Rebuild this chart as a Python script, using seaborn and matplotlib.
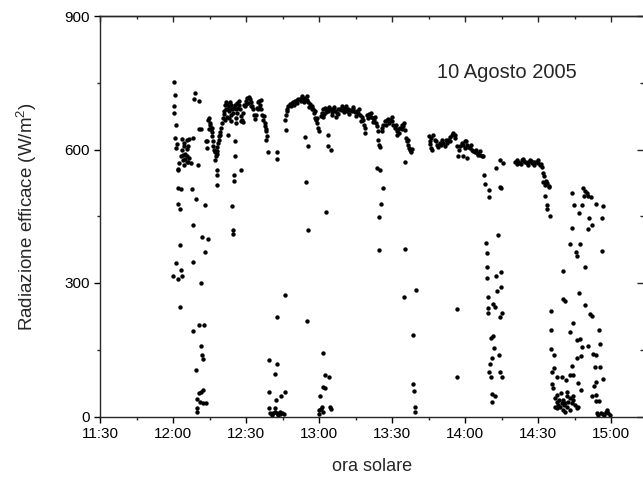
import matplotlib
matplotlib.use("Agg")
import matplotlib.pyplot as plt
from matplotlib.ticker import MultipleLocator, FuncFormatter, NullFormatter
import seaborn as sns
import pandas as pd

# ---- data: minutes after 12:00 (ora solare) and radiation (W/m2) ----
band_min = [
    3.7, 4.5, 5.6, 6.7, 8.4, 3.7, 4.5, 5.6, 6.3, 3.4, 4.2, 5.1, 5.9, 6.7, 4.0, 5.1, 6.2, 7.3, 2.6, 4.5, 5.6, 2.1, 10.4,
    9.2, 8.8, 10.5, 10.8, 11.6, 13.6, 14.1, 14.8, 15.2, 14.9, 15.9,
    13.8, 14.5, 15.5, 15.9, 16.3, 16.6, 17.0, 17.4, 17.9, 18.2, 18.6, 19.0, 19.5, 19.9, 20.1, 20.5, 21.0, 21.4,
    21.8, 22.2, 22.6, 23.0, 23.4, 23.8, 24.2, 24.7, 25.1, 25.5, 25.9, 26.3, 26.7, 27.1, 27.5, 28.1, 28.4, 28.9,
    29.5, 30.0, 30.5, 31.1, 31.6, 32.1, 32.5, 32.9, 33.3, 33.7, 34.1, 34.5, 34.9, 35.3, 35.8, 36.2, 36.6, 37.1,
    17.3, 17.9, 18.2, 18.2, 17.6, 18.0, 22.7, 25.5, 25.6, 22.9, 23.7, 25.9, 28.1, 28.9, 21.4, 22.1, 24.0, 26.0,
    27.8, 29.0, 30.2, 31.0, 32.0, 34.8, 36.0, 35.5, 20.8, 21.6, 22.4, 23.2, 26.5, 27.3, 19.2, 18.8, 16.0, 15.0,
    37.8, 38.2, 38.5, 38.2, 39.2, 42.6, 42.9, 38.1, 37.5, 38.0,
    46.3, 46.3, 46.7, 47.4, 48.1, 48.8, 49.5, 50.1, 50.8, 51.5, 52.2, 52.9, 53.6, 54.2, 54.9, 55.6, 56.3, 57.0,
    57.7, 58.0, 58.4, 58.8, 59.3, 59.0, 59.7, 60.1, 46.0, 47.0, 48.5, 49.8, 51.0, 52.5, 53.0, 54.0, 55.0, 56.0,
    57.3, 58.3, 54.4, 55.3, 63.6, 63.8, 64.8,
    61.1, 61.8, 62.5, 63.2, 63.8, 64.5, 65.2, 65.9, 66.6, 67.3, 67.9, 68.6, 69.3, 70.0, 70.7, 71.4, 72.1, 72.7,
    73.4, 74.1, 74.8, 75.5, 76.2, 76.8, 77.5, 78.2, 78.6, 78.9, 79.0, 79.9, 80.7, 81.2, 82.0, 82.7, 83.4, 84.0,
    84.4, 84.4, 84.8, 85.1,
    62.0, 63.0, 64.0, 65.5, 66.2, 67.0, 68.0, 69.0, 70.4, 71.0, 72.5, 73.8, 75.0, 76.5, 77.2, 80.3, 81.5, 82.3,
    83.0, 61.5, 60.8,
    85.8, 86.4, 87.1, 87.8, 88.5, 89.2, 89.9, 90.5, 91.2, 91.9, 92.6, 93.3, 94.0, 94.7, 95.3, 95.8, 96.3, 96.7,
    97.1, 97.4, 98.1, 96.5, 95.4, 86.0, 87.5, 88.8, 90.0, 91.5, 92.0, 93.0, 94.3, 95.0, 97.8,
    105.3, 105.6, 105.9, 106.3, 107.0, 107.6, 108.3, 109.0, 109.7, 110.4, 111.1, 111.8, 112.5, 113.2, 113.8,
    114.5, 115.2, 115.9, 116.6, 117.1, 118.0, 118.6, 119.3, 120.0, 120.7, 121.4, 122.1, 122.7, 123.4, 124.1,
    124.8, 125.5, 126.2, 126.8, 127.5, 119.1, 121.0,
    105.5, 106.0, 108.0, 110.0, 112.0, 114.0, 116.0, 117.6, 119.8, 122.5, 124.5, 126.0, 120.3,
    127.9, 128.3,
    140.6, 141.2, 141.9, 142.6, 143.3, 143.9, 144.6, 145.3, 146.0, 146.7, 147.4, 148.0, 148.7, 149.4, 150.1,
    150.8, 151.5, 151.9, 152.2, 152.9, 153.6, 154.4, 154.7,
    141.5, 143.0, 144.2, 145.8, 147.0, 148.3, 149.8, 151.2, 152.5, 153.2,
]
band_wm2 = [
    624, 615, 622, 624, 625, 600, 607, 601, 607, 585, 588, 591, 586, 581, 576, 579, 573, 570, 570, 566, 571, 556, 566,
    726, 714, 710, 645, 646, 618, 603, 671, 660, 646, 648,
    618, 667, 645, 630, 618, 607, 600, 594, 596, 606, 615, 622, 633, 648, 660, 671, 686, 701,
    706, 703, 691, 697, 706, 701, 690, 682, 693, 701, 691, 682, 693, 701, 690, 676, 667, 682,
    697, 708, 716, 718, 713, 706, 697, 690, 678, 669, 678, 693, 706, 708, 701, 690, 678, 667,
    577, 555, 543, 521, 585, 590, 633, 618, 585, 671, 663, 660, 663, 661, 666, 674, 678, 670,
    553, 700, 702, 705, 698, 690, 712, 694, 680, 690, 690, 686, 705, 708, 640, 630, 640, 655,
    660, 641, 630, 622, 594, 594, 579, 645, 675, 652,
    643, 678, 691, 697, 703, 705, 706, 708, 711, 713, 713, 716, 712, 716, 712, 706, 703, 697,
    690, 682, 671, 666, 671, 660, 648, 641, 667, 686, 698, 700, 704, 708, 720, 706, 720, 695,
    690, 686, 628, 607, 633, 608, 600,
    682, 690, 693, 691, 686, 690, 684, 690, 686, 682, 690, 690, 697, 691, 693, 686, 690, 688,
    686, 690, 684, 686, 682, 678, 674, 667, 656, 637, 648, 678, 680, 674, 671, 667, 660, 652,
    641, 622, 611, 606,
    680, 684, 695, 677, 696, 674, 680, 688, 684, 697, 680, 695, 676, 690, 665, 670, 682, 661,
    673, 672, 675,
    641, 656, 663, 667, 668, 666, 663, 656, 648, 641, 645, 648, 656, 652, 643, 626, 618, 611,
    603, 600, 601, 622, 571, 648, 656, 660, 672, 655, 633, 638, 645, 660, 594,
    630, 618, 603, 598, 633, 622, 611, 606, 615, 622, 615, 607, 615, 622, 628,
    633, 637, 633, 607, 585, 607, 615, 611, 618, 611, 606, 603, 600, 596, 594,
    592, 588, 588, 586, 585, 585, 581,
    612, 625, 618, 610, 622, 620, 625, 600, 603, 610, 600, 596, 620,
    543, 523,
    571, 568, 573, 570, 577, 579, 573, 570, 573, 577, 570, 573, 571, 573, 570,
    566, 561, 547, 528, 521, 525, 519, 516,
    576, 568, 575, 566, 575, 566, 577, 568, 540, 530,
]

dip_min = [
    0.4, 0.7, 0.4, 0.3, 1.4, 1.0, 1.5, 1.1, 1.9, 2.2, 3.3, 2.2, 2.9, 2.9, 1.2, 3.4, 0.0, 1.9, 3.6, 3.0,
    7.8, 8.4, 9.3, 13.2, 8.1, 11.8, 14.2, 13.0, 11.5, 8.1, 10.8, 12.9, 11.4, 12.1, 12.2, 9.5, 11.4, 12.2,
    10.8, 9.7, 11.1, 12.2, 13.6, 10.0, 9.7,
    24.4, 24.5, 24.6, 25.1, 25.1,
    39.6, 42.6, 41.9, 39.4, 44.3, 46.0, 42.4, 41.9, 39.5, 39.9, 41.3, 42.6, 44.0, 44.7, 45.6, 43.2, 41.9,
    46.2, 42.9, 40.5, 43.8,
    54.7, 55.3, 55.0,
    62.7, 61.5, 62.6, 64.3, 61.8, 62.4, 60.5, 61.3, 60.1, 61.8, 64.5, 64.8, 60.8, 60.2,
    84.0, 85.1, 86.1, 85.3, 84.5, 84.6,
    95.4, 95.1, 99.9, 98.7, 98.7, 99.0, 99.6, 99.6,
    116.8, 116.7,
    129.9, 129.9, 132.7, 134.4, 135.5, 134.2, 134.8, 133.7, 128.6, 129.1, 128.9, 128.9, 132.6, 134.8, 134.8,
    133.1, 129.3, 131.6, 132.2, 129.3, 129.6, 135.1, 134.5, 131.6, 130.7, 132.0, 134.0, 131.3, 130.3, 130.0,
    134.4, 130.8, 135.1, 131.1, 132.2, 131.3,
    153.9, 153.9, 155.0, 152.9,
    163.8, 168.6, 169.3, 170.0, 168.9, 170.7, 171.6, 168.0, 164.6, 166.9, 173.9, 176.7, 176.5, 171.1, 172.1,
    170.7, 164.1, 163.1, 167.2, 165.6, 165.9, 176.3, 160.1, 169.3, 160.4, 161.1, 167.0, 169.3, 171.4, 172.0,
    155.2, 164.5, 163.1, 175.2, 166.0, 167.2, 167.9, 170.7, 175.3, 155.3, 155.3, 156.4, 166.0, 167.8, 173.9,
    172.4, 173.6, 175.6, 164.0, 156.4, 155.7, 157.7, 159.7, 163.1, 164.5, 161.5, 166.6, 167.5, 155.6, 156.0,
    172.1, 173.0, 173.9, 176.6, 173.9, 175.2, 173.9,
    157.0, 157.7, 158.4, 159.1, 159.8, 160.4, 161.1, 161.8, 162.5, 163.1, 163.8, 164.5, 165.2, 165.9, 166.6,
    159.4, 161.8, 157.7, 160.1, 161.1, 157.0, 163.1, 158.7, 164.5, 158.0, 162.0, 160.8,
    174.1, 174.8, 175.7, 176.8, 177.9, 178.4, 178.8, 179.6, 177.3,
]
dip_wm2 = [
    752, 723, 698, 683, 654, 625, 613, 603, 555, 513, 511, 477, 466, 385, 345, 330, 315, 309, 316, 247,
    512, 431, 489, 476, 348, 403, 399, 369, 301, 193, 206, 206, 159, 139, 129, 105, 54, 60,
    52, 39, 33, 30, 30, 18, 11,
    472, 418, 411, 543, 530,
    127, 118, 96, 54, 47, 54, 37, 20, 20, 7, 7, 8, 5, 8, 5, 3, 11,
    273, 224, 4, 10,
    526, 420, 215,
    460, 142, 93, 89, 67, 63, 45, 22, 15, 11, 22, 16, 16, 5,
    558, 553, 513, 478, 448, 374,
    376, 268, 285, 183, 73, 57, 22, 11,
    241, 89,
    508, 493, 558, 577, 570, 515, 513, 408, 391, 368, 335, 311, 316, 324, 290,
    281, 269, 253, 247, 243, 232, 232, 223, 180, 177, 154, 138, 132, 118, 101,
    101, 88, 88, 50, 46, 32,
    476, 466, 450, 495,
    502, 513, 506, 502, 495, 495, 493, 476, 476, 457, 478, 472, 445, 446, 431,
    422, 423, 387, 388, 369, 361, 371, 328, 336, 265, 260, 277, 251, 230, 225,
    238, 209, 191, 194, 173, 175, 157, 158, 164, 195, 151, 138, 131, 136, 138,
    140, 112, 112, 113, 110, 101, 89, 88, 93, 93, 81, 76, 60, 74, 63,
    46, 68, 78, 84, 48, 35, 35,
    41, 33, 26, 22, 30, 37, 30, 22, 33, 41, 30, 37, 26, 18, 22,
    52, 56, 18, 15, 11, 22, 15, 37, 45, 48, 45, 25,
    7, 3, 8, 5, 11, 15, 7, 3, 3,
]

x_ticks_h = [11.5, 12.0, 12.5, 13.0, 13.5, 14.0, 14.5, 15.0]
y_ticks = [0, 300, 600, 900]
title_text = "10 Agosto 2005"

minutes = band_min + dip_min
values = band_wm2 + dip_wm2
df = pd.DataFrame({"ora": [12 + m / 60.0 for m in minutes], "rad": values})

sns.set_style("ticks")
plt.rcParams["font.family"] = ["Liberation Sans", "DejaVu Sans"]
plt.rcParams["mathtext.fontset"] = "custom"
plt.rcParams["mathtext.rm"] = "Liberation Sans"
plt.rcParams["mathtext.it"] = "Liberation Sans:italic"

fig = plt.figure(figsize=(6.43, 4.80), dpi=100)
# right spine sits just beyond the image edge, as in the reference
ax = fig.add_axes([100 / 643, 1 - 416.5 / 480, 545 / 643, 400.5 / 480])

sns.scatterplot(data=df, x="ora", y="rad", color="black", s=10, linewidth=0,
                ax=ax, legend=False)

ax.set_xlim(11.5, 11.5 + 545 / 146)
ax.set_ylim(0, 900)


def hhmm(h, pos=None):
    hh = int(h + 1e-6)
    mm = int(round((h - hh) * 60))
    return f"{hh}:{mm:02d}"


ax.set_xticks(x_ticks_h)
ax.xaxis.set_major_formatter(FuncFormatter(hhmm))
ax.xaxis.set_minor_locator(MultipleLocator(0.25))
ax.set_yticks(y_ticks)
ax.yaxis.set_minor_locator(MultipleLocator(150))

for sp in ax.spines.values():
    sp.set_linewidth(1.0)
    sp.set_visible(True)

ax.tick_params(which="major", direction="out", length=4.5, width=1.0,
               labelsize=11, colors="black", pad=3)
ax.tick_params(which="minor", direction="out", length=2.5, width=1.0)

top = ax.secondary_xaxis("top")
top.set_xticks(x_ticks_h)
top.xaxis.set_minor_locator(MultipleLocator(0.25))
top.xaxis.set_major_formatter(NullFormatter())
top.tick_params(which="major", direction="in", length=4.5, width=1.0)
top.tick_params(which="minor", direction="in", length=2.5, width=1.0)
top.spines["top"].set_linewidth(1.0)

right = ax.secondary_yaxis("right")
right.set_yticks(y_ticks)
right.yaxis.set_minor_locator(MultipleLocator(150))
right.yaxis.set_major_formatter(NullFormatter())
right.tick_params(which="major", direction="in", length=5.5, width=1.0)
right.tick_params(which="minor", direction="in", length=3.5, width=1.0)
right.spines["right"].set_linewidth(1.0)

ax.set_xlabel("ora solare", fontsize=13)
ax.set_ylabel("Radiazione efficace (W/m$^2$)", fontsize=13.5)
ax.xaxis.set_label_coords(0.5, -0.103)
ax.yaxis.set_label_coords(-0.112, 0.5)

ax.text(14.288, 774, title_text, fontsize=14.5, ha="center", va="center")

fig.savefig("out.png", dpi=100)
